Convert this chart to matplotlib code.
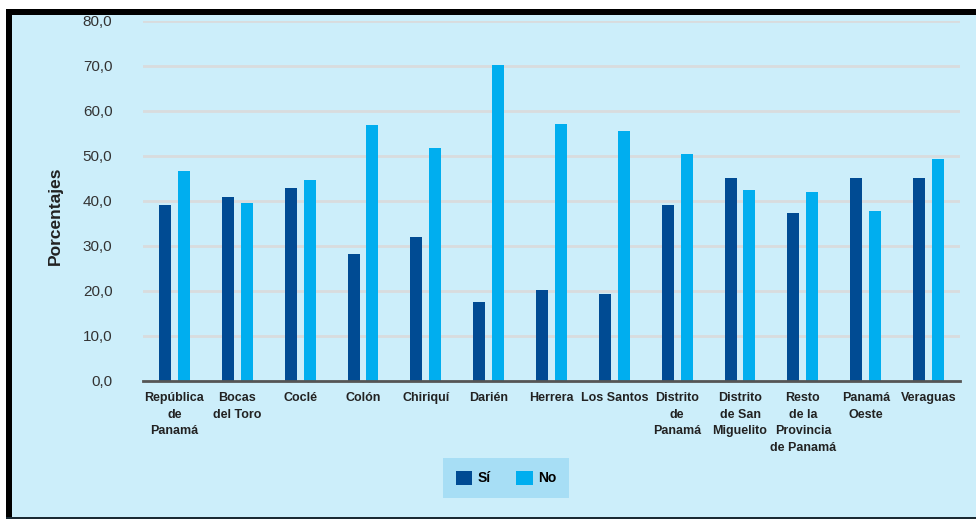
import matplotlib
matplotlib.use("Agg")
import matplotlib.pyplot as plt
from matplotlib.patches import Rectangle, Patch
import numpy as np

categories = ["República\nde\nPanamá", "Bocas\ndel Toro", "Coclé", "Colón", "Chiriquí",
              "Darién", "Herrera", "Los Santos", "Distrito\nde\nPanamá",
              "Distrito\nde San\nMiguelito", "Resto\nde la\nProvincia\nde Panamá",
              "Panamá\nOeste", "Veraguas"]
si = [39.1, 40.8, 42.9, 28.2, 31.9, 17.6, 20.3, 19.3, 39.0, 45.0, 37.4, 45.0, 45.0]
no = [46.7, 39.5, 44.6, 56.9, 51.8, 70.2, 57.1, 55.6, 50.5, 42.4, 42.0, 37.8, 49.2]
yticks = [0, 10, 20, 30, 40, 50, 60, 70, 80]
ytick_labels = ["0,0", "10,0", "20,0", "30,0", "40,0", "50,0", "60,0", "70,0", "80,0"]

c_si = "#004B93"
c_no = "#00AEEF"
bg = "#CCEEFA"

plt.rcParams['font.family'] = ['Liberation Sans', 'DejaVu Sans']

W, H = 976, 519
fig = plt.figure(figsize=(W / 100, H / 100), dpi=100)
fig.patch.set_facecolor("white")

# panel background and frame
fig.add_artist(Rectangle((6 / W, 0), 1, (H - 9) / H, transform=fig.transFigure,
                         facecolor=bg, edgecolor="none", zorder=-10))
fig.add_artist(Rectangle((6 / W, (H - 15) / H), 1, 6 / H, transform=fig.transFigure,
                         facecolor="black", edgecolor="none", zorder=-9))
fig.add_artist(Rectangle((6 / W, 0), 6 / W, (H - 9) / H, transform=fig.transFigure,
                         facecolor="black", edgecolor="none", zorder=-9))
fig.add_artist(Rectangle((6 / W, 0), 1, 2.5 / H, transform=fig.transFigure,
                         facecolor="#1a2a33", edgecolor="none", zorder=-9))

ax = fig.add_axes([143 / W, (H - 381) / H, 817 / W, (381 - 20.7) / H])
ax.set_facecolor("none")

x = np.arange(len(categories))
ax.bar(x - 0.15, si, width=0.19, color=c_si, zorder=3)
ax.bar(x + 0.15, no, width=0.19, color=c_no, zorder=3)

ax.set_xlim(-0.5, len(categories) - 0.5)
ax.set_ylim(0, 80)
ax.set_yticks(yticks)
ax.set_yticklabels(ytick_labels, fontsize=11, color="#333333")
ax.set_xticks(x)
ax.set_xticklabels(categories, fontsize=9, fontweight="bold", color="#222222",
                   linespacing=1.5, va="top")
ax.tick_params(axis="both", length=0)
ax.tick_params(axis="y", pad=22)
ax.tick_params(axis="x", pad=8)

for v in yticks[1:]:
    ax.axhline(v, color="#D9DCDD", linewidth=2, zorder=1)

for s in ["top", "right", "left"]:
    ax.spines[s].set_visible(False)
ax.spines["bottom"].set_color("#555555")
ax.spines["bottom"].set_linewidth(2)
ax.spines["bottom"].set_zorder(4)

ax.set_ylabel("Porcentajes", fontsize=12.5, fontweight="bold", color="#222222")
ax.yaxis.set_label_coords(-80 / 817, 0.46)

handles = [Patch(facecolor=c_si, label="Sí"), Patch(facecolor=c_no, label="No")]
leg = fig.legend(handles=handles, loc="center", bbox_to_anchor=(506 / W, (H - 478) / H),
                 ncol=2, frameon=True, fancybox=False,
                 handlelength=1.2, handleheight=1.2, columnspacing=1.8,
                 borderpad=0.9, handletextpad=0.4,
                 prop={"weight": "bold", "size": 10})
leg.get_frame().set_facecolor("#A7DEF5")
leg.get_frame().set_edgecolor("none")
leg.get_frame().set_alpha(1)

fig.savefig("out.png", dpi=100)
